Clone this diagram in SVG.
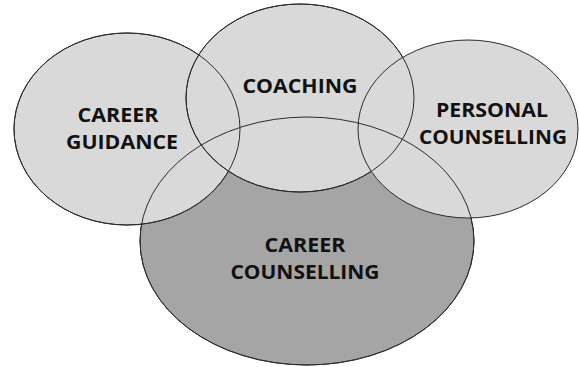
<svg xmlns="http://www.w3.org/2000/svg" width="579" height="367" viewBox="0 0 579 367">
<style>
.light{fill:#d9d9d9;stroke:#2b2b2b;stroke-width:1}
.dark{fill:#a5a5a5;stroke:#2b2b2b;stroke-width:1}
.line{fill:none;stroke:#2b2b2b;stroke-width:1}
text{font-family:"Open Sans","Liberation Sans",sans-serif;font-weight:bold;font-size:20px;fill:#111;text-anchor:middle}
</style>
<rect width="579" height="367" fill="#ffffff"/>
<g id="career-counselling">
<ellipse class="dark" cx="307" cy="241" rx="167" ry="124"/>
<text x="305" y="252" textLength="81" lengthAdjust="spacingAndGlyphs">CAREER</text>
<text x="305" y="279" textLength="149" lengthAdjust="spacingAndGlyphs">COUNSELLING</text>
</g>
<g id="career-guidance">
<ellipse class="light" cx="127" cy="129" rx="113" ry="96"/>
</g>
<g id="coaching">
<ellipse class="light" cx="300" cy="98" rx="114" ry="94"/>
</g>
<g id="personal-counselling">
<ellipse class="light" cx="468" cy="129" rx="110" ry="89"/>
</g>
<g id="connectors">
<ellipse class="line" cx="127" cy="129" rx="113" ry="96"/>
<ellipse class="line" cx="300" cy="98" rx="114" ry="94"/>
<ellipse class="line" cx="307" cy="241" rx="167" ry="124"/>
</g>
<g id="labels">
<text x="118" y="122" textLength="81" lengthAdjust="spacingAndGlyphs">CAREER</text>
<text x="122" y="149" textLength="112" lengthAdjust="spacingAndGlyphs">GUIDANCE</text>
<text x="300" y="93" textLength="115" lengthAdjust="spacingAndGlyphs">COACHING</text>
<text x="492" y="117" textLength="112" lengthAdjust="spacingAndGlyphs">PERSONAL</text>
<text x="493" y="144" textLength="148" lengthAdjust="spacingAndGlyphs">COUNSELLING</text>
</g>
</svg>
